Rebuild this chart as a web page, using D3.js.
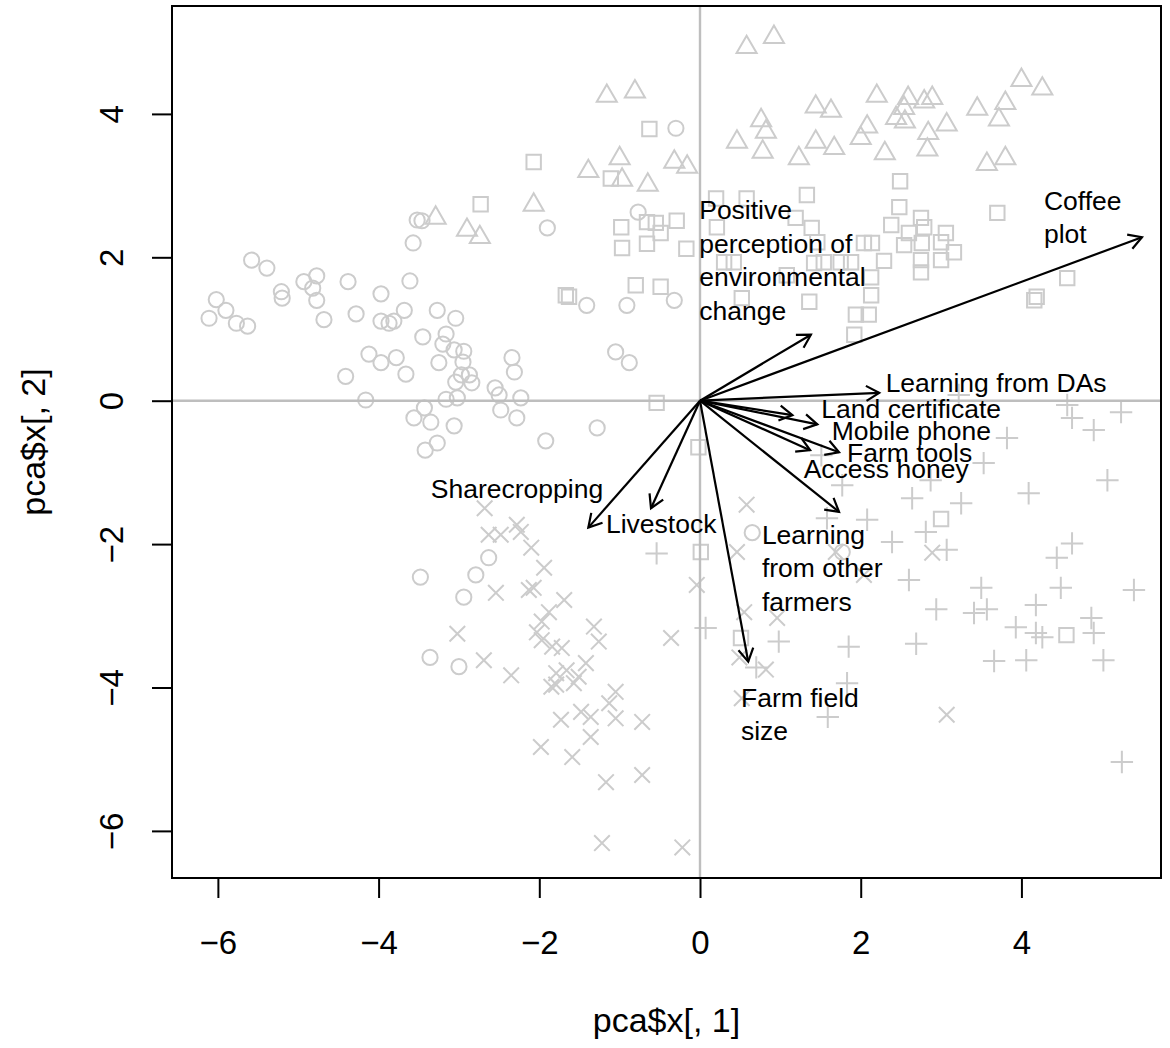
<!DOCTYPE html>
<html>
<head>
<meta charset="utf-8">
<script src="https://cdn.jsdelivr.net/npm/d3@7"></script>
<style>
  body { margin: 0; background: #fff; }
  svg { font-family: "Liberation Sans", Arial, Helvetica, sans-serif; }
</style>
</head>
<body>
<script>
// PCA scores, one array per group (pca$x[,1], pca$x[,2])
const circlePts = [[-6.11,1.15],[-6.02,1.41],[-5.90,1.26],[-5.77,1.08],[-5.63,1.04],[-5.58,1.96],[-5.39,1.85],[-5.21,1.52],[-5.20,1.43],[-4.93,1.66],[-4.77,1.74],[-4.82,1.57],[-4.77,1.40],[-4.68,1.13],[-4.38,1.66],[-4.28,1.21],[-3.97,1.49],[-3.97,1.11],[-3.87,1.08],[-3.81,1.11],[-3.68,1.26],[-3.61,1.67],[-3.57,2.20],[-3.52,2.52],[-3.46,2.51],[-3.27,1.26],[-3.04,1.15],[-3.45,0.89],[-3.16,0.93],[-3.20,0.79],[-3.06,0.71],[-2.94,0.69],[-2.95,0.54],[-3.25,0.53],[-2.97,0.36],[-2.87,0.36],[-3.04,0.26],[-2.84,0.25],[-4.12,0.65],[-3.97,0.53],[-3.78,0.60],[-3.66,0.37],[-4.41,0.34],[-4.16,0.01],[-3.16,0.02],[-3.02,0.04],[-2.55,0.18],[-2.50,0.08],[-2.48,-0.13],[-3.43,-0.10],[-3.56,-0.24],[-3.35,-0.30],[-3.06,-0.35],[-3.27,-0.59],[-3.42,-0.69],[-2.34,0.60],[-2.31,0.40],[-2.23,0.04],[-2.28,-0.24],[-1.28,-0.38],[-1.92,-0.56],[-1.05,0.68],[-0.88,0.53],[-1.41,1.33],[-0.91,1.33],[-0.32,1.40],[-0.30,3.80],[-1.90,2.41],[-0.77,2.63],[-2.63,-2.19],[-2.79,-2.43],[-3.48,-2.46],[-2.94,-2.74],[-3.36,-3.58],[-3.00,-3.71],[0.65,-1.84],[1.77,-2.11]]

const trianglePts = [[-3.29,2.55],[-2.90,2.38],[-2.74,2.28],[0.58,4.93],[0.92,5.07],[-1.16,4.25],[-0.81,4.31],[-1.00,3.38],[-0.32,3.33],[-0.16,3.26],[-1.39,3.20],[-0.97,3.08],[-0.65,3.01],[-2.07,2.73],[1.44,4.10],[0.76,3.91],[0.82,3.75],[0.46,3.61],[0.78,3.47],[1.23,3.38],[1.44,3.61],[2.20,4.25],[2.59,4.22],[1.63,4.04],[2.79,4.17],[2.89,4.22],[2.54,4.08],[2.44,3.94],[2.55,3.89],[2.08,3.82],[2.00,3.66],[1.67,3.52],[2.30,3.45],[2.84,3.73],[2.83,3.50],[3.07,3.85],[3.45,4.07],[3.80,4.15],[3.72,3.92],[4.00,4.47],[4.26,4.35],[3.57,3.30],[3.80,3.38]]

const squarePts = [[-2.73,2.74],[-0.63,3.79],[-2.07,3.33],[-1.11,3.10],[0.20,2.82],[0.58,2.82],[1.33,2.87],[-0.98,2.42],[-0.66,2.49],[-0.55,2.48],[-0.29,2.51],[-0.49,2.34],[-0.97,2.13],[-0.66,2.19],[-0.17,2.12],[0.21,2.42],[1.39,2.41],[0.30,1.93],[0.42,1.93],[-1.67,1.47],[-1.63,1.45],[-0.80,1.61],[-0.49,1.59],[0.52,1.43],[1.36,1.38],[1.19,2.55],[1.08,1.75],[1.42,1.92],[2.49,3.06],[2.48,2.70],[2.38,2.45],[2.75,2.55],[2.79,2.42],[2.60,2.34],[2.76,2.20],[3.06,2.34],[3.16,2.07],[2.54,2.17],[3.00,2.21],[3.00,1.96],[2.75,1.96],[2.75,1.79],[3.70,2.62],[4.57,1.71],[4.19,1.45],[2.29,1.95],[2.14,2.20],[2.04,2.20],[1.88,1.93],[2.13,1.72],[2.13,1.47],[1.75,1.93],[1.54,1.93],[1.46,2.21],[1.94,1.20],[2.10,1.20],[1.92,0.92],[4.16,1.40],[3.00,-1.65],[-0.54,-0.03],[-0.02,-0.65],[0.01,-2.11],[0.51,-3.31],[4.56,-3.27]]

const crossPts = [[-2.68,-1.50],[-2.63,-1.87],[-2.48,-1.87],[-2.28,-1.73],[-2.23,-1.83],[-2.10,-2.05],[-1.94,-2.33],[-2.07,-2.61],[0.58,-1.45],[0.46,-2.11],[-0.04,-2.57],[-2.54,-2.68],[-3.02,-3.25],[-2.69,-3.62],[-2.13,-2.64],[-1.69,-2.78],[-1.88,-2.95],[-1.97,-3.08],[-2.03,-3.23],[-1.97,-3.34],[-1.84,-3.43],[-1.72,-3.45],[-1.32,-3.15],[-1.26,-3.36],[-0.36,-3.31],[-2.35,-3.83],[-1.79,-3.80],[-1.66,-3.76],[-1.51,-3.85],[-1.42,-3.66],[-1.85,-3.99],[-1.79,-3.96],[-1.57,-3.94],[-1.05,-4.06],[-1.13,-4.22],[-1.48,-4.34],[-1.73,-4.45],[-1.36,-4.41],[-1.05,-4.43],[-0.72,-4.48],[-1.36,-4.69],[-1.98,-4.83],[-1.59,-4.97],[-1.17,-5.32],[-0.72,-5.22],[-1.22,-6.17],[-0.22,-6.23],[0.55,-2.95],[0.96,-3.03],[0.49,-3.58],[0.82,-3.75],[0.52,-4.15],[3.07,-4.38],[2.89,-2.12],[1.69,-2.11],[2.04,-2.43]]

const plusPts = [[4.57,-0.06],[5.24,-0.16],[4.63,-0.24],[4.90,-0.41],[3.82,-0.52],[3.53,-0.87],[5.07,-1.11],[4.09,-1.29],[3.25,-1.43],[2.64,-1.36],[1.77,-1.18],[2.08,-1.66],[2.81,-1.83],[2.39,-1.97],[3.07,-2.08],[4.63,-1.99],[4.44,-2.19],[2.60,-2.50],[3.50,-2.61],[4.49,-2.61],[5.40,-2.64],[1.51,-0.76],[1.58,-1.64],[2.87,-1.11],[3.22,0.08],[2.94,-2.91],[3.41,-2.96],[3.57,-2.91],[4.18,-2.85],[4.87,-3.03],[3.93,-3.16],[4.18,-3.24],[4.26,-3.30],[4.90,-3.24],[1.85,-3.43],[2.69,-3.39],[3.66,-3.63],[4.06,-3.62],[5.02,-3.62],[1.83,-3.94],[1.59,-4.41],[5.25,-5.04],[-0.54,-2.13],[0.07,-3.17],[0.98,-3.36],[0.70,-3.72]]

// loadings (arrow tips) and their text
const varNames = ["Coffee plot", "Positive perception of environmental change", "Learning from DAs",
  "Land certificate", "Mobile phone", "Farm tools", "Access honey", "Learning from other farmers",
  "Farm field size", "Livestock", "Sharecropping"]
const loadX = [5.50, 1.38, 2.23, 1.15, 1.46, 1.73, 1.37, 1.73, 0.60, -0.61, -1.39]
const loadY = [2.28, 0.92, 0.11, -0.20, -0.33, -0.72, -0.69, -1.55, -3.64, -1.50, -1.77]
const labelLines = [["Coffee", "plot"], ["Positive", "perception of", "environmental", "change"],
  ["Learning from DAs"], ["Land certificate"], ["Mobile phone"], ["Farm tools"], ["Access honey"],
  ["Learning", "from other", "farmers"], ["Farm field", "size"], ["Livestock"], ["Sharecropping"]]
const labelX = [4.28, -0.01, 2.31, 1.51, 1.64, 1.83, 1.29, 0.77, 0.51, -1.17, -3.35]
const labelY = [2.56, 1.96, 0.25, -0.11, -0.42, -0.725, -0.95, -2.33, -4.375, -1.72, -1.23]

const xLimits = [-6.571, 5.737], yLimits = [-6.657, 5.505]
const xTicks = [-6, -4, -2, 0, 2, 4], yTicks = [-6, -4, -2, 0, 2, 4]

const W = 1170, H = 1048
const plot = {left: 172, right: 1161, top: 6, bottom: 878}
const ptColor = "#cccccc"

const svg = d3.select("body").append("svg").attr("width", W).attr("height", H)

const x = d3.scaleLinear().domain(xLimits).range([plot.left, plot.right])
const y = d3.scaleLinear().domain(yLimits).range([plot.bottom, plot.top])

// point shapes, like R pch 1, 2, 0, 4, 3
const shapes = {
  circle: "M7.6,0A7.6,7.6 0 1,1 -7.6,0A7.6,7.6 0 1,1 7.6,0Z",
  triangle: "M0,-11.6L10.05,5.8L-10.05,5.8Z",
  square: "M-7.2,-7.2H7.2V7.2H-7.2Z",
  cross: "M-7.8,-7.8L7.8,7.8M-7.8,7.8L7.8,-7.8",
  plus: "M-11.2,0H11.2M0,-11.2V11.2"
}
const groups = [
  {shape: "circle", pts: circlePts},
  {shape: "triangle", pts: trianglePts},
  {shape: "square", pts: squarePts},
  {shape: "cross", pts: crossPts},
  {shape: "plus", pts: plusPts}
]

const pg = svg.append("g")
groups.forEach(g => {
  pg.selectAll(null)
    .data(g.pts).enter()
    .append("path")
    .attr("d", shapes[g.shape])
    .attr("transform", d => `translate(${x(d[0])},${y(d[1])})`)
    .attr("fill", "none")
    .attr("stroke", ptColor)
    .attr("stroke-width", 2)
})

// abline(h = 0, v = 0)
svg.append("line")
  .attr("x1", plot.left).attr("x2", plot.right)
  .attr("y1", y(0)).attr("y2", y(0))
  .attr("stroke", "#bebebe").attr("stroke-width", 2.4)
svg.append("line")
  .attr("x1", x(0)).attr("x2", x(0))
  .attr("y1", plot.top).attr("y2", plot.bottom)
  .attr("stroke", "#bebebe").attr("stroke-width", 2.4)

// arrows
let arrows = varNames.map((name, i) => ({
  name, ax: loadX[i], ay: loadY[i], lines: labelLines[i], lx: labelX[i], ly: labelY[i]
}))

function headPath(d) {
  let x0 = x(0), y0 = y(0), x1 = x(d.ax), y1 = y(d.ay)
  let a = Math.atan2(y1 - y0, x1 - x0), L = 15, s = Math.PI / 6
  let p1 = [x1 - L * Math.cos(a - s), y1 - L * Math.sin(a - s)]
  let p2 = [x1 - L * Math.cos(a + s), y1 - L * Math.sin(a + s)]
  return `M${p1}L${x1},${y1}L${p2}`
}

let ag = svg.append("g").attr("stroke", "#000").attr("stroke-width", 2.2).attr("fill", "none")
ag.selectAll("line")
  .data(arrows).enter()
  .append("line")
  .attr("x1", x(0)).attr("y1", y(0))
  .attr("x2", d => x(d.ax)).attr("y2", d => y(d.ay))
ag.selectAll("path")
  .data(arrows).enter()
  .append("path")
  .attr("d", headPath)

// labels, left aligned, block centred on the anchor
const labSize = 26.5, lineEm = 1.264
let lab = svg.selectAll("text.lab")
  .data(arrows).enter()
  .append("text")
  .attr("class", "lab")
  .attr("x", d => x(d.lx))
  .attr("y", d => y(d.ly))
  .attr("font-size", labSize)
  .attr("fill", "#000")
lab.each(function(d) {
  let n = d.lines.length
  d3.select(this).selectAll("tspan")
    .data(d.lines).enter()
    .append("tspan")
    .attr("x", x(d.lx))
    .attr("dy", (t, i) => i == 0 ? (0.35 - (n - 1) / 2 * lineEm) + "em" : lineEm + "em")
    .text(t => t)
})

// axes
const axSize = 33
let xa = svg.append("g")
  .attr("transform", `translate(0,${plot.bottom})`)
  .call(d3.axisBottom(x).tickValues(xTicks).tickSize(20))
xa.select(".domain").remove()
xa.selectAll("line").attr("stroke", "#000").attr("stroke-width", 2)
xa.selectAll("text")
  .attr("font-size", axSize).attr("font-family", null).attr("fill", "#000")
  .attr("y", 64).attr("dy", "0.35em")

let ya = svg.append("g")
  .attr("transform", `translate(${plot.left},0)`)
  .call(d3.axisLeft(y).tickValues(yTicks).tickSize(20))
ya.select(".domain").remove()
ya.selectAll("line").attr("stroke", "#000").attr("stroke-width", 2)
ya.selectAll("text")
  .attr("font-size", axSize).attr("font-family", null).attr("fill", "#000")
  .attr("transform", "rotate(-90)")
  .attr("x", 0).attr("y", -61).attr("dy", "0.35em")
  .attr("text-anchor", "middle")

// box
svg.append("rect")
  .attr("x", plot.left).attr("y", plot.top)
  .attr("width", plot.right - plot.left).attr("height", plot.bottom - plot.top)
  .attr("fill", "none").attr("stroke", "#000").attr("stroke-width", 2)

// axis titles
svg.append("text")
  .attr("x", (plot.left + plot.right) / 2).attr("y", 1020).attr("dy", "0.35em")
  .attr("text-anchor", "middle").attr("font-size", 34)
  .text("pca$x[, 1]")
svg.append("text")
  .attr("transform", `translate(33,${(plot.top + plot.bottom) / 2}) rotate(-90)`)
  .attr("dy", "0.35em")
  .attr("text-anchor", "middle").attr("font-size", 34)
  .text("pca$x[, 2]")
</script>
</body>
</html>
